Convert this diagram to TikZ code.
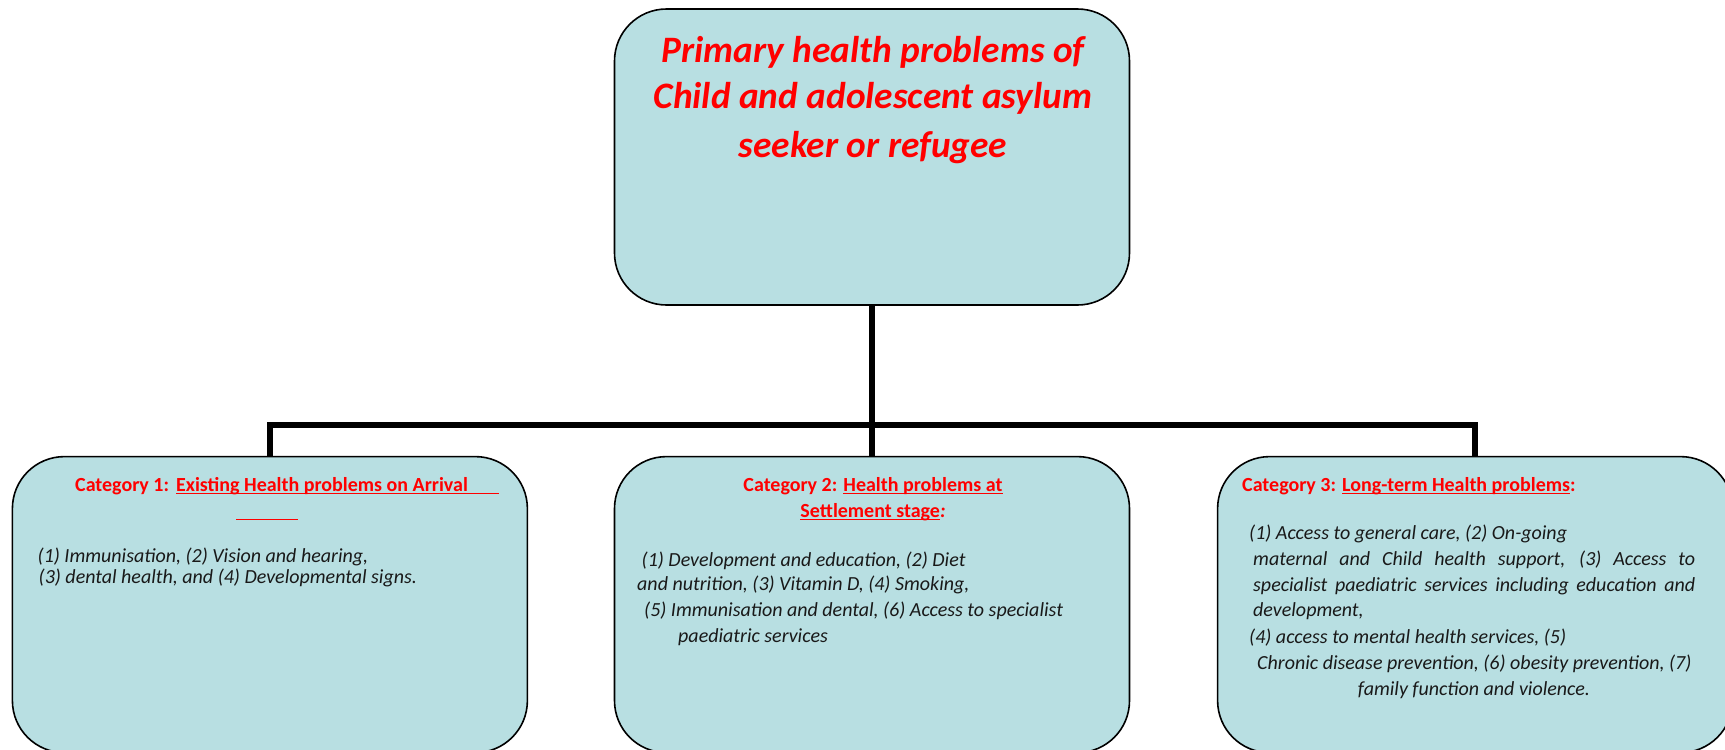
\documentclass[tikz,border=0pt]{standalone}
\usepackage{fontspec}
\setmainfont{Carlito}
\usepackage{xcolor}
\usepackage{tikz}
\usetikzlibrary{positioning}
\definecolor{boxfill}{RGB}{184,223,226}
\definecolor{bodyink}{RGB}{25,25,25}
\tikzstyle{block} = [rectangle, draw=black, line width=1.6pt, fill=boxfill,
    rounded corners=52pt, minimum width=515pt, minimum height=296pt, inner sep=0pt]
\tikzstyle{link} = [draw, line width=5.5pt]
\tikzstyle{title} = [text=red, font=\fontsize{37.3}{44}\selectfont\bfseries\itshape,
    inner sep=0pt, anchor=base]
\tikzstyle{head} = [text=red, font=\fontsize{20}{24}\selectfont\bfseries, inner sep=0pt]
\tikzstyle{body} = [text=bodyink, font=\fontsize{20}{24}\selectfont\itshape,
    inner sep=0pt, anchor=base west]
% red underline that runs through the descenders
\newcommand{\redul}[1]{\setbox0\hbox{#1}\rlap{\rule[-3pt]{\wd0}{1.5pt}}\box0}

\begin{document}
\begin{tikzpicture}[x=1pt, y=1pt]
  \useasboundingbox (0,0) rectangle (1725,-750);

  % Place boxes
  \node [block] (root) at (872,-157) {};
  \node [block, below=150pt of root] (cat2) {};
  \node [block, left=85.5pt of cat2] (cat1) {};
  \node [block, right=86.5pt of cat2] (cat3) {};

  % Draw edges
  \coordinate (hub) at ([yshift=-119pt]root.south);
  \path [link] (root.south) -- (hub);
  \path [link] (hub) -- (cat2.north);
  \path [link] (hub) -| (cat1.north);
  \path [link] (hub) -| (cat3.north);

  % Title
  \node [title] (t1) at (873,-62) {Primary health problems of};
  \node [title] (t2) at (873,-108) {Child and adolescent asylum};
  \node [title] (t3) at (873,-157) {seeker or refugee};

  % Category 1
  \node [head, anchor=base west] (h1) at (75,-491)
    {Category 1:\hspace{7pt}\redul{Existing Health problems on Arrival\hspace{31pt}}};
  \node [head, anchor=base west] (h1gap) at (236,-517) {\redul{\hspace{62pt}}};
  \node [body] (b1a) at (37.5,-562) {(1) Immunisation, (2) Vision and hearing,};
  \node [body] (b1b) at (38.5,-583) {(3) dental health, and (4) Developmental signs.};

  % Category 2
  \node [head, anchor=base] (h2) at (873,-491) {Category 2: \redul{Health problems at}};
  \node [head, anchor=base] (h2b) at (873,-517) {\redul{Settlement stage}\textit{:}};
  \node [body] (b2a) at (641.5,-566) {(1) Development and education, (2) Diet};
  \node [body] (b2b) at (637,-590) {and nutrition, (3) Vitamin D, (4) Smoking,};
  \node [body] (b2c) at (644,-616) {(5) Immunisation and dental, (6) Access to specialist};
  \node [body] (b2d) at (678,-642) {paediatric services};

  % Category 3
  \node [head, anchor=base west] (h3) at (1242,-491)
    {Category 3: \redul{Long-term Health problems}:};
  \node [body] (b3a) at (1249,-539) {(1) Access to general care, (2) On-going};
  \node [body] (b3b) at (1253,-565)
    {\makebox[442pt][s]{maternal and Child health support, (3) Access to}};
  \node [body] (b3c) at (1253,-591)
    {\makebox[442pt][s]{specialist paediatric services including education and}};
  \node [body] (b3d) at (1253,-616) {development,};
  \node [body] (b3e) at (1249,-643) {(4) access to mental health services, (5)};
  \node [body] (b3f) at (1257,-669) {Chronic disease prevention, (6) obesity prevention, (7)};
  \node [body, anchor=base] (b3g) at (1474,-695) {family function and violence.};
\end{tikzpicture}
\end{document}
